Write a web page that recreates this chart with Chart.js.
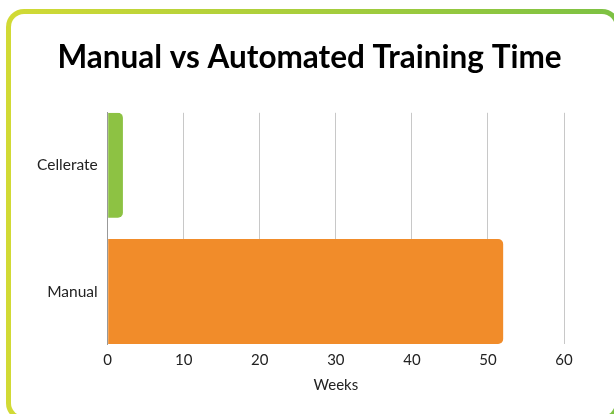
<!DOCTYPE html>
<html>
<head>
<meta charset="utf-8">
<script src="https://cdn.jsdelivr.net/npm/chart.js@4.4.0/dist/chart.umd.min.js"></script>
<style>
  html, body { margin: 0; padding: 0; background: #fff; }
  body { width: 614px; height: 414px; position: relative; overflow: hidden; }
  .frame {
    position: absolute; left: 6px; top: 9px; width: 604px; height: 402px;
    border: 5px solid transparent; border-radius: 18px;
    background: linear-gradient(#fff, #fff) padding-box,
                linear-gradient(90deg, #d2da35, #7cc143) border-box;
  }
  #wrap { position: absolute; left: 0; top: 0; width: 614px; height: 414px; }
</style>
</head>
<body>
<div class="frame"></div>
<div id="wrap"><canvas id="grafico"></canvas></div>
<script>
// Dados do gráfico
const categorias = ['Cellerate', 'Manual'];
const semanas = [2, 52];
const cores = ['#8dc243', '#f18c2a'];

// Índice numérico para cada categoria (eixo y linear, para controlar o espaço entre barras)
const pontos = semanas.map((v, i) => ({ x: v, y: i }));

const ctx = document.getElementById('grafico').getContext('2d');
const grafico = new Chart(ctx, {
    type: 'bar',
    data: {
        datasets: [{
            label: 'Weeks',
            data: pontos,
            backgroundColor: cores,
            borderRadius: 5,
            borderSkipped: 'start',
            barPercentage: 0.832,
            categoryPercentage: 1
        }]
    },
    options: {
        indexAxis: 'y',
        responsive: true,
        maintainAspectRatio: false,
        animation: false,
        layout: { padding: { left: 27, right: 22, top: 39, bottom: 16 } },
        plugins: {
            legend: { display: false },
            tooltip: { enabled: false },
            title: {
                display: true,
                text: 'Manual vs Automated Training Time',
                color: '#000',
                font: { family: 'Lato', size: 31.5, weight: 'bold' },
                padding: { top: 0, bottom: 36 }
            }
        },
        scales: {
            x: {
                min: 0,
                max: 60,
                ticks: { stepSize: 10, color: '#222', padding: 7, font: { family: 'Lato', size: 15 } },
                grid: { color: '#c8c8c8', drawTicks: false },
                border: { display: false },
                title: { display: true, text: 'Weeks', color: '#222', font: { family: 'Lato', size: 15 }, padding: { top: 0 } }
            },
            y: {
                type: 'linear',
                offset: false,
                reverse: true,
                min: -0.416,
                max: 1.416,
                afterBuildTicks: scale => { scale.ticks = categorias.map((c, i) => ({ value: i })); },
                ticks: {
                    color: '#222',
                    padding: 10,
                    font: { family: 'Lato', size: 15.5 },
                    callback: value => categorias[value]
                },
                grid: { display: false, drawTicks: false },
                border: { display: true, color: '#999' }
            },
            // eixo vazio à direita, só para reservar espaço (o título fica centrado como no original)
            espaco: {
                position: 'right',
                ticks: { display: false },
                grid: { display: false, drawTicks: false },
                border: { display: false },
                afterFit: scale => { scale.width = 28; }
            }
        }
    }
});
</script>
</body>
</html>
